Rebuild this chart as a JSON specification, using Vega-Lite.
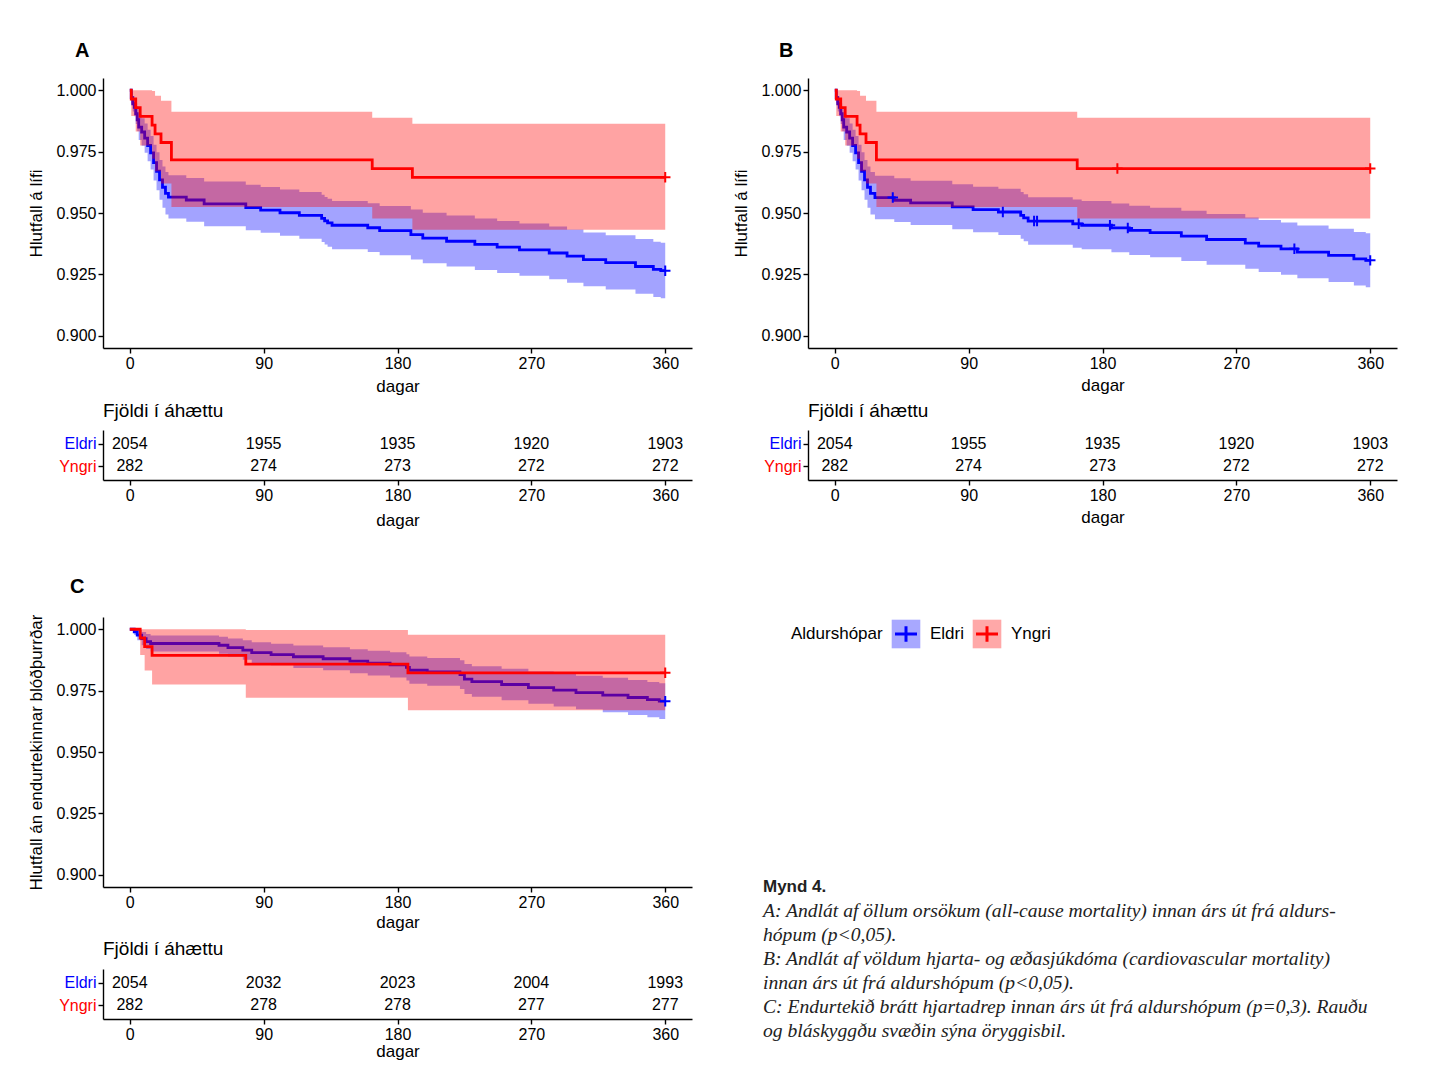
{
"$schema": "https://vega.github.io/schema/vega-lite/v6.json",
"autosize": {"type": "none"},
"padding": {"left": 103, "top": 78, "right": 1332, "bottom": 1008},
"background": "white",
"config": {
  "view": {"stroke": null},
  "font": "Liberation Sans",
  "axis": {"grid": false, "domainColor": "black", "domainWidth": 1.4, "tickColor": "black", "tickWidth": 1.4, "tickSize": 5, "labelColor": "black", "labelFontSize": 16, "labelFont": "Liberation Sans", "titleFont": "Liberation Sans", "titleFontSize": 17, "titleFontWeight": "normal", "titleColor": "black", "labelPadding": 2, "labelFlush": false},
  "title": {"font": "Liberation Sans", "color": "black"},
  "text": {"font": "Liberation Sans"}
},
"datasets": {
  "km": [
    {"p":"A","g":"Eldri","d":0,"s":1,"lo":1,"hi":1},
    {"p":"A","g":"Eldri","d":1,"s":0.997,"lo":0.99463,"hi":0.99937},
    {"p":"A","g":"Eldri","d":2,"s":0.9945,"lo":0.99131,"hi":0.99771},
    {"p":"A","g":"Eldri","d":3,"s":0.993,"lo":0.9894,"hi":0.99662},
    {"p":"A","g":"Eldri","d":4,"s":0.9905,"lo":0.98631,"hi":0.9947},
    {"p":"A","g":"Eldri","d":5,"s":0.988,"lo":0.9833,"hi":0.99272},
    {"p":"A","g":"Eldri","d":6,"s":0.985,"lo":0.97976,"hi":0.99027},
    {"p":"A","g":"Eldri","d":8,"s":0.983,"lo":0.97742,"hi":0.98861},
    {"p":"A","g":"Eldri","d":10,"s":0.9805,"lo":0.97454,"hi":0.9865},
    {"p":"A","g":"Eldri","d":12,"s":0.9775,"lo":0.97111,"hi":0.98393},
    {"p":"A","g":"Eldri","d":14,"s":0.9745,"lo":0.9677,"hi":0.98134},
    {"p":"A","g":"Eldri","d":16,"s":0.9705,"lo":0.96321,"hi":0.97785},
    {"p":"A","g":"Eldri","d":18,"s":0.967,"lo":0.95931,"hi":0.97476},
    {"p":"A","g":"Eldri","d":20,"s":0.9635,"lo":0.95542,"hi":0.97164},
    {"p":"A","g":"Eldri","d":22,"s":0.9605,"lo":0.95211,"hi":0.96896},
    {"p":"A","g":"Eldri","d":24,"s":0.958,"lo":0.94936,"hi":0.96671},
    {"p":"A","g":"Eldri","d":26,"s":0.9565,"lo":0.94772,"hi":0.96536},
    {"p":"A","g":"Eldri","d":38,"s":0.9553,"lo":0.9464,"hi":0.96428},
    {"p":"A","g":"Eldri","d":50,"s":0.9537,"lo":0.94465,"hi":0.96283},
    {"p":"A","g":"Eldri","d":78,"s":0.9522,"lo":0.94302,"hi":0.96147},
    {"p":"A","g":"Eldri","d":88,"s":0.9512,"lo":0.94193,"hi":0.96056},
    {"p":"A","g":"Eldri","d":101,"s":0.9501,"lo":0.94073,"hi":0.95956},
    {"p":"A","g":"Eldri","d":114,"s":0.949,"lo":0.93953,"hi":0.95856},
    {"p":"A","g":"Eldri","d":129,"s":0.9478,"lo":0.93823,"hi":0.95747},
    {"p":"A","g":"Eldri","d":131,"s":0.9468,"lo":0.93714,"hi":0.95656},
    {"p":"A","g":"Eldri","d":133,"s":0.946,"lo":0.93627,"hi":0.95582},
    {"p":"A","g":"Eldri","d":136,"s":0.945,"lo":0.93519,"hi":0.95491},
    {"p":"A","g":"Eldri","d":160,"s":0.944,"lo":0.93411,"hi":0.954},
    {"p":"A","g":"Eldri","d":168,"s":0.9428,"lo":0.93281,"hi":0.9529},
    {"p":"A","g":"Eldri","d":189,"s":0.9412,"lo":0.93108,"hi":0.95143},
    {"p":"A","g":"Eldri","d":197,"s":0.9398,"lo":0.92957,"hi":0.95014},
    {"p":"A","g":"Eldri","d":213,"s":0.9385,"lo":0.92817,"hi":0.94895},
    {"p":"A","g":"Eldri","d":232,"s":0.9372,"lo":0.92676,"hi":0.94775},
    {"p":"A","g":"Eldri","d":247,"s":0.9361,"lo":0.92558,"hi":0.94674},
    {"p":"A","g":"Eldri","d":262,"s":0.935,"lo":0.9244,"hi":0.94572},
    {"p":"A","g":"Eldri","d":282,"s":0.9337,"lo":0.923,"hi":0.94452},
    {"p":"A","g":"Eldri","d":294,"s":0.9324,"lo":0.9216,"hi":0.94332},
    {"p":"A","g":"Eldri","d":305,"s":0.931,"lo":0.92011,"hi":0.94203},
    {"p":"A","g":"Eldri","d":320,"s":0.9298,"lo":0.91882,"hi":0.94092},
    {"p":"A","g":"Eldri","d":340,"s":0.9282,"lo":0.9171,"hi":0.93943},
    {"p":"A","g":"Eldri","d":352,"s":0.927,"lo":0.91582,"hi":0.93832},
    {"p":"A","g":"Eldri","d":357,"s":0.9265,"lo":0.91528,"hi":0.93786},
    {"p":"A","g":"Eldri","d":360,"s":0.9265,"lo":0.91528,"hi":0.93786},
    {"p":"A","g":"Yngri","d":0,"s":1,"lo":1,"hi":1},
    {"p":"A","g":"Yngri","d":1,"s":0.99645,"lo":0.98954,"hi":1},
    {"p":"A","g":"Yngri","d":4,"s":0.99291,"lo":0.98316,"hi":1},
    {"p":"A","g":"Yngri","d":7,"s":0.98936,"lo":0.97746,"hi":1},
    {"p":"A","g":"Yngri","d":15,"s":0.98582,"lo":0.97212,"hi":0.99972},
    {"p":"A","g":"Yngri","d":17,"s":0.98227,"lo":0.96699,"hi":0.99779},
    {"p":"A","g":"Yngri","d":21,"s":0.97872,"lo":0.96202,"hi":0.99571},
    {"p":"A","g":"Yngri","d":28,"s":0.97163,"lo":0.95244,"hi":0.9912},
    {"p":"A","g":"Yngri","d":163,"s":0.96809,"lo":0.94779,"hi":0.98883},
    {"p":"A","g":"Yngri","d":190,"s":0.96454,"lo":0.9432,"hi":0.98637},
    {"p":"A","g":"Yngri","d":360,"s":0.96454,"lo":0.9432,"hi":0.98637},
    {"p":"B","g":"Eldri","d":0,"s":1,"lo":1,"hi":1},
    {"p":"B","g":"Eldri","d":1,"s":0.997,"lo":0.99463,"hi":0.99937},
    {"p":"B","g":"Eldri","d":2,"s":0.9945,"lo":0.99131,"hi":0.99771},
    {"p":"B","g":"Eldri","d":3,"s":0.993,"lo":0.9894,"hi":0.99662},
    {"p":"B","g":"Eldri","d":4,"s":0.9905,"lo":0.98631,"hi":0.9947},
    {"p":"B","g":"Eldri","d":5,"s":0.988,"lo":0.9833,"hi":0.99272},
    {"p":"B","g":"Eldri","d":6,"s":0.985,"lo":0.97976,"hi":0.99027},
    {"p":"B","g":"Eldri","d":8,"s":0.983,"lo":0.97742,"hi":0.98861},
    {"p":"B","g":"Eldri","d":10,"s":0.9805,"lo":0.97454,"hi":0.9865},
    {"p":"B","g":"Eldri","d":12,"s":0.9775,"lo":0.97111,"hi":0.98393},
    {"p":"B","g":"Eldri","d":14,"s":0.9745,"lo":0.9677,"hi":0.98134},
    {"p":"B","g":"Eldri","d":16,"s":0.9705,"lo":0.96321,"hi":0.97785},
    {"p":"B","g":"Eldri","d":18,"s":0.967,"lo":0.95931,"hi":0.97476},
    {"p":"B","g":"Eldri","d":20,"s":0.9635,"lo":0.95542,"hi":0.97164},
    {"p":"B","g":"Eldri","d":22,"s":0.9605,"lo":0.95211,"hi":0.96896},
    {"p":"B","g":"Eldri","d":24,"s":0.958,"lo":0.94936,"hi":0.96671},
    {"p":"B","g":"Eldri","d":27,"s":0.9563,"lo":0.9475,"hi":0.96518},
    {"p":"B","g":"Eldri","d":40,"s":0.9552,"lo":0.94629,"hi":0.96419},
    {"p":"B","g":"Eldri","d":51,"s":0.9541,"lo":0.94509,"hi":0.96319},
    {"p":"B","g":"Eldri","d":79,"s":0.9525,"lo":0.94334,"hi":0.96174},
    {"p":"B","g":"Eldri","d":93,"s":0.9514,"lo":0.94214,"hi":0.96074},
    {"p":"B","g":"Eldri","d":110,"s":0.9504,"lo":0.94105,"hi":0.95984},
    {"p":"B","g":"Eldri","d":125,"s":0.949,"lo":0.93953,"hi":0.95856},
    {"p":"B","g":"Eldri","d":127,"s":0.948,"lo":0.93845,"hi":0.95765},
    {"p":"B","g":"Eldri","d":130,"s":0.9467,"lo":0.93703,"hi":0.95646},
    {"p":"B","g":"Eldri","d":160,"s":0.9456,"lo":0.93584,"hi":0.95546},
    {"p":"B","g":"Eldri","d":166,"s":0.945,"lo":0.93519,"hi":0.95491},
    {"p":"B","g":"Eldri","d":186,"s":0.9439,"lo":0.934,"hi":0.9539},
    {"p":"B","g":"Eldri","d":198,"s":0.9429,"lo":0.93292,"hi":0.95299},
    {"p":"B","g":"Eldri","d":212,"s":0.942,"lo":0.93194,"hi":0.95216},
    {"p":"B","g":"Eldri","d":233,"s":0.9406,"lo":0.93043,"hi":0.95088},
    {"p":"B","g":"Eldri","d":250,"s":0.9392,"lo":0.92892,"hi":0.94959},
    {"p":"B","g":"Eldri","d":276,"s":0.9377,"lo":0.9273,"hi":0.94821},
    {"p":"B","g":"Eldri","d":285,"s":0.9365,"lo":0.92601,"hi":0.94711},
    {"p":"B","g":"Eldri","d":300,"s":0.9354,"lo":0.92483,"hi":0.94609},
    {"p":"B","g":"Eldri","d":311,"s":0.9341,"lo":0.92343,"hi":0.94489},
    {"p":"B","g":"Eldri","d":332,"s":0.9327,"lo":0.92192,"hi":0.9436},
    {"p":"B","g":"Eldri","d":349,"s":0.9313,"lo":0.92042,"hi":0.9423},
    {"p":"B","g":"Eldri","d":357,"s":0.9307,"lo":0.91978,"hi":0.94175},
    {"p":"B","g":"Eldri","d":360,"s":0.9307,"lo":0.91978,"hi":0.94175},
    {"p":"B","g":"Yngri","d":0,"s":1,"lo":1,"hi":1},
    {"p":"B","g":"Yngri","d":1,"s":0.99645,"lo":0.98954,"hi":1},
    {"p":"B","g":"Yngri","d":4,"s":0.99291,"lo":0.98316,"hi":1},
    {"p":"B","g":"Yngri","d":7,"s":0.98936,"lo":0.97746,"hi":1},
    {"p":"B","g":"Yngri","d":15,"s":0.98582,"lo":0.97212,"hi":0.99972},
    {"p":"B","g":"Yngri","d":17,"s":0.98227,"lo":0.96699,"hi":0.99779},
    {"p":"B","g":"Yngri","d":21,"s":0.97872,"lo":0.96202,"hi":0.99571},
    {"p":"B","g":"Yngri","d":28,"s":0.97163,"lo":0.95244,"hi":0.9912},
    {"p":"B","g":"Yngri","d":163,"s":0.96809,"lo":0.94779,"hi":0.98883},
    {"p":"B","g":"Yngri","d":360,"s":0.96809,"lo":0.94779,"hi":0.98883},
    {"p":"C","g":"Eldri","d":0,"s":1,"lo":1,"hi":1},
    {"p":"C","g":"Eldri","d":3,"s":0.999,"lo":0.99763,"hi":1},
    {"p":"C","g":"Eldri","d":5,"s":0.9976,"lo":0.99548,"hi":0.99972},
    {"p":"C","g":"Eldri","d":8,"s":0.9962,"lo":0.99354,"hi":0.99886},
    {"p":"C","g":"Eldri","d":11,"s":0.995,"lo":0.99195,"hi":0.99805},
    {"p":"C","g":"Eldri","d":14,"s":0.9942,"lo":0.99092,"hi":0.99749},
    {"p":"C","g":"Eldri","d":60,"s":0.9935,"lo":0.99003,"hi":0.99698},
    {"p":"C","g":"Eldri","d":66,"s":0.9925,"lo":0.98878,"hi":0.99624},
    {"p":"C","g":"Eldri","d":76,"s":0.9915,"lo":0.98754,"hi":0.99548},
    {"p":"C","g":"Eldri","d":82,"s":0.9905,"lo":0.98631,"hi":0.9947},
    {"p":"C","g":"Eldri","d":95,"s":0.9897,"lo":0.98534,"hi":0.99408},
    {"p":"C","g":"Eldri","d":110,"s":0.9888,"lo":0.98426,"hi":0.99336},
    {"p":"C","g":"Eldri","d":130,"s":0.988,"lo":0.9833,"hi":0.99272},
    {"p":"C","g":"Eldri","d":148,"s":0.987,"lo":0.98211,"hi":0.99191},
    {"p":"C","g":"Eldri","d":160,"s":0.9862,"lo":0.98116,"hi":0.99126},
    {"p":"C","g":"Eldri","d":175,"s":0.9855,"lo":0.98034,"hi":0.99068},
    {"p":"C","g":"Eldri","d":186,"s":0.9845,"lo":0.97917,"hi":0.98986},
    {"p":"C","g":"Eldri","d":188,"s":0.9833,"lo":0.97777,"hi":0.98886},
    {"p":"C","g":"Eldri","d":200,"s":0.9826,"lo":0.97696,"hi":0.98827},
    {"p":"C","g":"Eldri","d":222,"s":0.9815,"lo":0.97569,"hi":0.98734},
    {"p":"C","g":"Eldri","d":225,"s":0.9797,"lo":0.97362,"hi":0.98582},
    {"p":"C","g":"Eldri","d":230,"s":0.9787,"lo":0.97247,"hi":0.98496},
    {"p":"C","g":"Eldri","d":250,"s":0.9775,"lo":0.97111,"hi":0.98393},
    {"p":"C","g":"Eldri","d":268,"s":0.9762,"lo":0.96963,"hi":0.98282},
    {"p":"C","g":"Eldri","d":285,"s":0.9752,"lo":0.9685,"hi":0.98195},
    {"p":"C","g":"Eldri","d":300,"s":0.9742,"lo":0.96737,"hi":0.98108},
    {"p":"C","g":"Eldri","d":318,"s":0.9732,"lo":0.96624,"hi":0.98021},
    {"p":"C","g":"Eldri","d":335,"s":0.9722,"lo":0.96512,"hi":0.97934},
    {"p":"C","g":"Eldri","d":348,"s":0.9713,"lo":0.96411,"hi":0.97855},
    {"p":"C","g":"Eldri","d":356,"s":0.9707,"lo":0.96343,"hi":0.97802},
    {"p":"C","g":"Eldri","d":360,"s":0.9707,"lo":0.96343,"hi":0.97802},
    {"p":"C","g":"Yngri","d":0,"s":1,"lo":1,"hi":1},
    {"p":"C","g":"Yngri","d":7,"s":0.99645,"lo":0.98954,"hi":1},
    {"p":"C","g":"Yngri","d":10,"s":0.99291,"lo":0.98316,"hi":1},
    {"p":"C","g":"Yngri","d":15,"s":0.98936,"lo":0.97746,"hi":1},
    {"p":"C","g":"Yngri","d":78,"s":0.98582,"lo":0.97212,"hi":0.99972},
    {"p":"C","g":"Yngri","d":187,"s":0.98227,"lo":0.96699,"hi":0.99779},
    {"p":"C","g":"Yngri","d":360,"s":0.98227,"lo":0.96699,"hi":0.99779}
  ],
  "cens": [
    {"p":"A","g":"Eldri","d":360,"s":0.9265},
    {"p":"A","g":"Yngri","d":360,"s":0.96454},
    {"p":"B","g":"Eldri","d":39,"s":0.9563},
    {"p":"B","g":"Eldri","d":113,"s":0.9504},
    {"p":"B","g":"Eldri","d":134,"s":0.9467},
    {"p":"B","g":"Eldri","d":136,"s":0.9467},
    {"p":"B","g":"Eldri","d":164,"s":0.9456},
    {"p":"B","g":"Eldri","d":185,"s":0.945},
    {"p":"B","g":"Eldri","d":197,"s":0.9439},
    {"p":"B","g":"Eldri","d":309,"s":0.9354},
    {"p":"B","g":"Eldri","d":360,"s":0.9307},
    {"p":"B","g":"Yngri","d":190,"s":0.96809},
    {"p":"B","g":"Yngri","d":360,"s":0.96809},
    {"p":"C","g":"Eldri","d":360,"s":0.9707},
    {"p":"C","g":"Yngri","d":360,"s":0.98227}
  ],
  "risk": [
    {"t":"AB","g":"Eldri","d":0,"n":2054},
    {"t":"AB","g":"Eldri","d":90,"n":1955},
    {"t":"AB","g":"Eldri","d":180,"n":1935},
    {"t":"AB","g":"Eldri","d":270,"n":1920},
    {"t":"AB","g":"Eldri","d":360,"n":1903},
    {"t":"AB","g":"Yngri","d":0,"n":282},
    {"t":"AB","g":"Yngri","d":90,"n":274},
    {"t":"AB","g":"Yngri","d":180,"n":273},
    {"t":"AB","g":"Yngri","d":270,"n":272},
    {"t":"AB","g":"Yngri","d":360,"n":272},
    {"t":"C","g":"Eldri","d":0,"n":2054},
    {"t":"C","g":"Eldri","d":90,"n":2032},
    {"t":"C","g":"Eldri","d":180,"n":2023},
    {"t":"C","g":"Eldri","d":270,"n":2004},
    {"t":"C","g":"Eldri","d":360,"n":1993},
    {"t":"C","g":"Yngri","d":0,"n":282},
    {"t":"C","g":"Yngri","d":90,"n":278},
    {"t":"C","g":"Yngri","d":180,"n":278},
    {"t":"C","g":"Yngri","d":270,"n":277},
    {"t":"C","g":"Yngri","d":360,"n":277}
  ],
  "legend": [{"g":"Eldri"},{"g":"Yngri"}],
  "caption": [
    {"i":1,"t":"Mynd 4."},
    {"i":2,"t":"A: Andlát af öllum orsökum (all-cause mortality) innan árs út frá aldurs-"},
    {"i":3,"t":"hópum (p<0,05)."},
    {"i":4,"t":"B: Andlát af völdum hjarta- og æðasjúkdóma (cardiovascular mortality)"},
    {"i":5,"t":"innan árs út frá aldurshópum (p<0,05)."},
    {"i":6,"t":"C: Endurtekið brátt hjartadrep innan árs út frá aldurshópum (p=0,3). Rauðu"},
    {"i":7,"t":"og bláskyggðu svæðin sýna öryggisbil."}
  ]
},
"vconcat": [
  {
    "concat": [
      {
        "width": 589, "height": 270,
        "title": {"text": "A", "anchor": "start", "frame": "group", "dx": -28, "offset": 1, "fontSize": 20, "fontWeight": "bold", "baseline": "alphabetic"},
        "data": {"name": "km"},
        "transform": [{"filter": "datum.p === 'A'"}],
        "layer": [
          {"transform": [{"filter": "datum.g === 'Eldri'"}],
           "mark": {"type": "area", "interpolate": "step-after", "fillOpacity": 0.36},
           "encoding": {
             "x": {"field": "d", "type": "quantitative", "scale": {"domain": [-18, 378], "nice": false, "zero": false}, "axis": {"values": [0, 90, 180, 270, 360], "title": "dagar", "titlePadding": 7}},
             "y": {"field": "lo", "type": "quantitative", "scale": {"domain": [0.895, 1.005], "nice": false, "zero": false}, "axis": {"values": [0.9, 0.925, 0.95, 0.975, 1], "format": ".3f", "title": "Hlutfall á lífi", "titlePadding": 10}},
             "y2": {"field": "hi"},
             "color": {"field": "g", "type": "nominal", "scale": {"domain": ["Eldri", "Yngri"], "range": ["#0000ff", "#ff0000"]}, "legend": null}}},
          {"transform": [{"filter": "datum.g === 'Eldri'"}],
           "mark": {"type": "line", "interpolate": "step-after", "strokeWidth": 2.8},
           "encoding": {
             "x": {"field": "d", "type": "quantitative", "title": "dagar"},
             "y": {"field": "s", "type": "quantitative", "title": "Hlutfall á lífi"},
             "color": {"field": "g", "type": "nominal", "legend": null}}},
          {"transform": [{"filter": "datum.g === 'Yngri'"}],
           "mark": {"type": "area", "interpolate": "step-after", "fillOpacity": 0.36},
           "encoding": {
             "x": {"field": "d", "type": "quantitative", "title": "dagar"},
             "y": {"field": "lo", "type": "quantitative", "title": "Hlutfall á lífi"},
             "y2": {"field": "hi"},
             "color": {"field": "g", "type": "nominal", "legend": null}}},
          {"transform": [{"filter": "datum.g === 'Yngri'"}],
           "mark": {"type": "line", "interpolate": "step-after", "strokeWidth": 2.8},
           "encoding": {
             "x": {"field": "d", "type": "quantitative", "title": "dagar"},
             "y": {"field": "s", "type": "quantitative", "title": "Hlutfall á lífi"},
             "color": {"field": "g", "type": "nominal", "legend": null}}},
          {"data": {"name": "cens"}, "transform": [{"filter": "datum.p === 'A'"}],
           "mark": {"type": "point", "shape": "M-1,0H1M0,-1V1", "size": 110, "filled": false, "strokeWidth": 2, "opacity": 1},
           "encoding": {
             "x": {"field": "d", "type": "quantitative", "title": "dagar"},
             "y": {"field": "s", "type": "quantitative", "title": "Hlutfall á lífi"},
             "color": {"field": "g", "type": "nominal", "legend": null}}}
        ]
      },
      {
        "width": 589, "height": 270,
        "title": {"text": "B", "anchor": "start", "frame": "group", "dx": -29, "offset": 1, "fontSize": 20, "fontWeight": "bold", "baseline": "alphabetic"},
        "data": {"name": "km"},
        "transform": [{"filter": "datum.p === 'B'"}],
        "layer": [
          {"transform": [{"filter": "datum.g === 'Eldri'"}],
           "mark": {"type": "area", "interpolate": "step-after", "fillOpacity": 0.36},
           "encoding": {
             "x": {"field": "d", "type": "quantitative", "scale": {"domain": [-18, 378], "nice": false, "zero": false}, "axis": {"values": [0, 90, 180, 270, 360], "title": "dagar", "titlePadding": 6}},
             "y": {"field": "lo", "type": "quantitative", "scale": {"domain": [0.895, 1.005], "nice": false, "zero": false}, "axis": {"values": [0.9, 0.925, 0.95, 0.975, 1], "format": ".3f", "title": "Hlutfall á lífi", "titlePadding": 10}},
             "y2": {"field": "hi"},
             "color": {"field": "g", "type": "nominal", "scale": {"domain": ["Eldri", "Yngri"], "range": ["#0000ff", "#ff0000"]}, "legend": null}}},
          {"transform": [{"filter": "datum.g === 'Eldri'"}],
           "mark": {"type": "line", "interpolate": "step-after", "strokeWidth": 2.8},
           "encoding": {
             "x": {"field": "d", "type": "quantitative", "title": "dagar"},
             "y": {"field": "s", "type": "quantitative", "title": "Hlutfall á lífi"},
             "color": {"field": "g", "type": "nominal", "legend": null}}},
          {"transform": [{"filter": "datum.g === 'Yngri'"}],
           "mark": {"type": "area", "interpolate": "step-after", "fillOpacity": 0.36},
           "encoding": {
             "x": {"field": "d", "type": "quantitative", "title": "dagar"},
             "y": {"field": "lo", "type": "quantitative", "title": "Hlutfall á lífi"},
             "y2": {"field": "hi"},
             "color": {"field": "g", "type": "nominal", "legend": null}}},
          {"transform": [{"filter": "datum.g === 'Yngri'"}],
           "mark": {"type": "line", "interpolate": "step-after", "strokeWidth": 2.8},
           "encoding": {
             "x": {"field": "d", "type": "quantitative", "title": "dagar"},
             "y": {"field": "s", "type": "quantitative", "title": "Hlutfall á lífi"},
             "color": {"field": "g", "type": "nominal", "legend": null}}},
          {"data": {"name": "cens"}, "transform": [{"filter": "datum.p === 'B'"}],
           "mark": {"type": "point", "shape": "M-1,0H1M0,-1V1", "size": 110, "filled": false, "strokeWidth": 2, "opacity": 1},
           "encoding": {
             "x": {"field": "d", "type": "quantitative", "title": "dagar"},
             "y": {"field": "s", "type": "quantitative", "title": "Hlutfall á lífi"},
             "color": {"field": "g", "type": "nominal", "legend": null}}}
        ]
      },
      {
        "width": 589, "height": 50,
        "title": {"text": "Fjöldi í áhættu", "anchor": "start", "frame": "group", "offset": -6, "fontSize": 19, "fontWeight": "normal", "baseline": "alphabetic"},
        "data": {"name": "risk"},
        "transform": [{"filter": "datum.t === 'AB'"}],
        "mark": {"type": "text", "fontSize": 16, "color": "black"},
        "encoding": {
          "x": {"field": "d", "type": "quantitative", "scale": {"domain": [-18, 378], "nice": false, "zero": false}, "axis": {"values": [0, 90, 180, 270, 360], "title": "dagar", "titlePadding": 9}},
          "y": {"field": "g", "type": "nominal", "scale": {"type": "point", "domain": ["Eldri", "Yngri"], "padding": 0.6}, "axis": {"title": null, "labelColor": {"condition": {"test": "datum.value === 'Eldri'", "value": "#0000ff"}, "value": "#ff0000"}}},
          "text": {"field": "n", "type": "quantitative", "format": "d"}
        }
      },
      {
        "width": 589, "height": 50,
        "title": {"text": "Fjöldi í áhættu", "anchor": "start", "frame": "group", "offset": -6, "fontSize": 19, "fontWeight": "normal", "baseline": "alphabetic"},
        "data": {"name": "risk"},
        "transform": [{"filter": "datum.t === 'AB'"}],
        "mark": {"type": "text", "fontSize": 16, "color": "black"},
        "encoding": {
          "x": {"field": "d", "type": "quantitative", "scale": {"domain": [-18, 378], "nice": false, "zero": false}, "axis": {"values": [0, 90, 180, 270, 360], "title": "dagar", "titlePadding": 6}},
          "y": {"field": "g", "type": "nominal", "scale": {"type": "point", "domain": ["Eldri", "Yngri"], "padding": 0.6}, "axis": {"title": null, "labelColor": {"condition": {"test": "datum.value === 'Eldri'", "value": "#0000ff"}, "value": "#ff0000"}}},
          "text": {"field": "n", "type": "quantitative", "format": "d"}
        }
      }
    ],
    "columns": 2,
    "spacing": {"row": 82, "column": 116},
    "bounds": "flush",
    "align": "each"
  },
  {
    "hconcat": [
      {
        "vconcat": [
          {
            "width": 589, "height": 270,
            "title": {"text": "C", "anchor": "start", "frame": "group", "dx": -33, "offset": 1, "fontSize": 20, "fontWeight": "bold", "baseline": "alphabetic"},
            "data": {"name": "km"},
            "transform": [{"filter": "datum.p === 'C'"}],
            "layer": [
              {"transform": [{"filter": "datum.g === 'Eldri'"}],
               "mark": {"type": "area", "interpolate": "step-after", "fillOpacity": 0.36},
               "encoding": {
                 "x": {"field": "d", "type": "quantitative", "scale": {"domain": [-18, 378], "nice": false, "zero": false}, "axis": {"values": [0, 90, 180, 270, 360], "title": "dagar", "titlePadding": 4}},
                 "y": {"field": "lo", "type": "quantitative", "scale": {"domain": [0.895, 1.005], "nice": false, "zero": false}, "axis": {"values": [0.9, 0.925, 0.95, 0.975, 1], "format": ".3f", "title": "Hlutfall án endurtekinnar blóðþurrðar", "titlePadding": 10}},
                 "y2": {"field": "hi"},
                 "color": {"field": "g", "type": "nominal", "scale": {"domain": ["Eldri", "Yngri"], "range": ["#0000ff", "#ff0000"]}, "legend": null}}},
              {"transform": [{"filter": "datum.g === 'Eldri'"}],
               "mark": {"type": "line", "interpolate": "step-after", "strokeWidth": 2.8},
               "encoding": {
                 "x": {"field": "d", "type": "quantitative", "title": "dagar"},
                 "y": {"field": "s", "type": "quantitative", "title": "Hlutfall án endurtekinnar blóðþurrðar"},
                 "color": {"field": "g", "type": "nominal", "legend": null}}},
              {"transform": [{"filter": "datum.g === 'Yngri'"}],
               "mark": {"type": "area", "interpolate": "step-after", "fillOpacity": 0.36},
               "encoding": {
                 "x": {"field": "d", "type": "quantitative", "title": "dagar"},
                 "y": {"field": "lo", "type": "quantitative", "title": "Hlutfall án endurtekinnar blóðþurrðar"},
                 "y2": {"field": "hi"},
                 "color": {"field": "g", "type": "nominal", "legend": null}}},
              {"transform": [{"filter": "datum.g === 'Yngri'"}],
               "mark": {"type": "line", "interpolate": "step-after", "strokeWidth": 2.8},
               "encoding": {
                 "x": {"field": "d", "type": "quantitative", "title": "dagar"},
                 "y": {"field": "s", "type": "quantitative", "title": "Hlutfall án endurtekinnar blóðþurrðar"},
                 "color": {"field": "g", "type": "nominal", "legend": null}}},
              {"data": {"name": "cens"}, "transform": [{"filter": "datum.p === 'C'"}],
               "mark": {"type": "point", "shape": "M-1,0H1M0,-1V1", "size": 110, "filled": false, "strokeWidth": 2, "opacity": 1},
               "encoding": {
                 "x": {"field": "d", "type": "quantitative", "title": "dagar"},
                 "y": {"field": "s", "type": "quantitative", "title": "Hlutfall án endurtekinnar blóðþurrðar"},
                 "color": {"field": "g", "type": "nominal", "legend": null}}}
            ]
          },
          {
            "width": 589, "height": 50,
            "title": {"text": "Fjöldi í áhættu", "anchor": "start", "frame": "group", "offset": -5, "fontSize": 19, "fontWeight": "normal", "baseline": "alphabetic"},
            "data": {"name": "risk"},
            "transform": [{"filter": "datum.t === 'C'"}],
            "mark": {"type": "text", "fontSize": 16, "color": "black"},
            "encoding": {
              "x": {"field": "d", "type": "quantitative", "scale": {"domain": [-18, 378], "nice": false, "zero": false}, "axis": {"values": [0, 90, 180, 270, 360], "title": "dagar", "titlePadding": 1}},
              "y": {"field": "g", "type": "nominal", "scale": {"type": "point", "domain": ["Eldri", "Yngri"], "padding": 0.6}, "axis": {"title": null, "labelColor": {"condition": {"test": "datum.value === 'Eldri'", "value": "#0000ff"}, "value": "#ff0000"}}},
              "text": {"field": "n", "type": "quantitative", "format": "d"}
            }
          }
        ],
        "spacing": 82,
        "bounds": "flush"
      },
      {
        "vconcat": [
          {
            "width": 367, "height": 34,
            "data": {"name": "legend"},
            "layer": [
              {"mark": {"type": "point", "shape": "square", "size": 820, "filled": true, "opacity": 0.34, "strokeWidth": 0},
               "encoding": {
                 "x": {"field": "g", "type": "nominal", "scale": {"type": "point", "range": [143, 224], "padding": 0}, "axis": null},
                 "color": {"field": "g", "type": "nominal", "scale": {"domain": ["Eldri", "Yngri"], "range": ["#0000ff", "#ff0000"]}, "legend": null}}},
              {"mark": {"type": "point", "shape": "M-1,0H1M0,-0.7V0.7", "size": 484, "filled": false, "strokeWidth": 3, "opacity": 1},
               "encoding": {
                 "x": {"field": "g", "type": "nominal", "axis": null},
                 "color": {"field": "g", "type": "nominal", "legend": null}}},
              {"mark": {"type": "text", "align": "left", "dx": 24, "fontSize": 17, "color": "black"},
               "encoding": {
                 "x": {"field": "g", "type": "nominal", "axis": null},
                 "text": {"field": "g"}}},
              {"data": {"values": [{"t": "Aldurshópar"}]},
               "mark": {"type": "text", "align": "left", "dx": -115, "fontSize": 17, "color": "black"},
               "encoding": {
                 "x": {"datum": "Eldri", "type": "nominal", "axis": null},
                 "text": {"field": "t"}}}
            ]
          },
          {
            "width": 600, "height": 168,
            "data": {"name": "caption"},
            "layer": [
              {"transform": [{"filter": "datum.i === 1"}],
               "mark": {"type": "text", "align": "left", "font": "Liberation Sans", "fontWeight": "bold", "fontSize": 17, "color": "#222222"},
               "encoding": {
                 "x": {"datum": 0, "type": "quantitative", "scale": {"domain": [0, 1]}, "axis": null},
                 "y": {"field": "i", "type": "ordinal", "scale": {"type": "band", "domain": [1, 2, 3, 4, 5, 6, 7], "paddingInner": 0, "paddingOuter": 0}, "axis": null},
                 "text": {"field": "t"}}},
              {"transform": [{"filter": "datum.i > 1"}],
               "mark": {"type": "text", "align": "left", "font": "Liberation Serif", "fontStyle": "italic", "fontSize": 19.6, "color": "#222222"},
               "encoding": {
                 "x": {"datum": 0, "type": "quantitative", "axis": null},
                 "y": {"field": "i", "type": "ordinal", "axis": null},
                 "text": {"field": "t"}}}
            ]
          }
        ],
        "spacing": 224,
        "bounds": "flush"
      }
    ],
    "spacing": 660,
    "bounds": "flush"
  }
],
"spacing": 539,
"bounds": "flush"
}
